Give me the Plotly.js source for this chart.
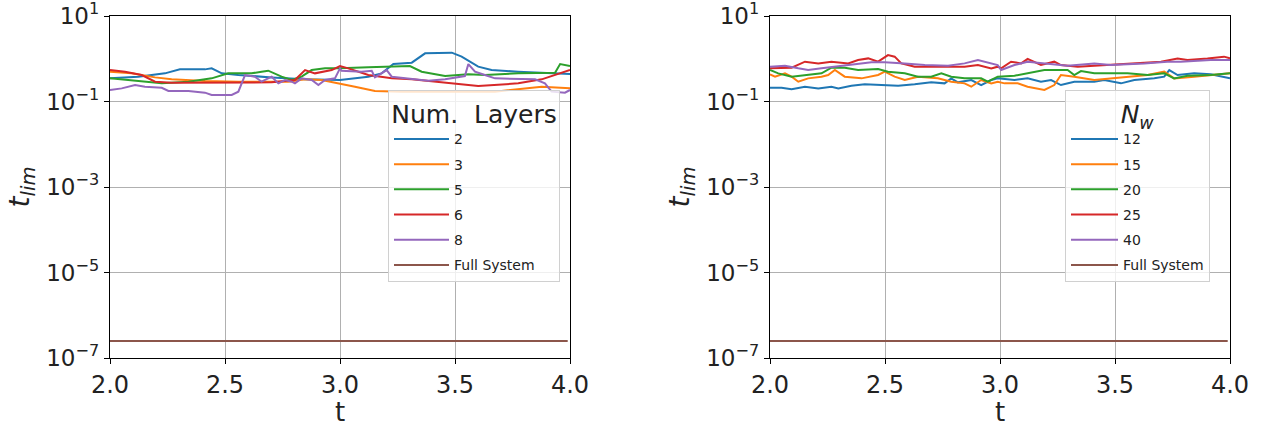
<!DOCTYPE html>
<html><head><meta charset="utf-8">
<script src="https://cdn.plot.ly/plotly-3.0.1.min.js"></script>
<style>html,body{margin:0;padding:0;background:#fff}#chart{width:1265px;height:427px}</style>
</head><body><div id="chart"></div>
<script>
// ---------- Left panel: Num. Layers ----------
const L2_t = [2.0,2.123,2.239,2.304,2.413,2.442,2.486,2.558,2.703,2.848,3.0,3.123,3.181,3.232,3.312,3.37,3.486,3.529,3.601,3.659,3.775,3.92,4.0];
const L2_v = [0.348,0.381,0.456,0.565,0.565,0.597,0.456,0.417,0.367,0.33,0.318,0.381,0.456,0.753,0.81,1.34,1.39,1.12,0.653,0.545,0.499,0.472,0.44];

const L3_t = [2.0,2.094,2.196,2.268,2.413,2.558,2.775,2.848,2.92,3.0,3.065,3.152,3.268,3.674,3.761,3.877,4.0];
const L3_v = [0.499,0.456,0.367,0.33,0.302,0.291,0.291,0.33,0.318,0.266,0.222,0.176,0.17,0.17,0.193,0.222,0.203];

const L5_t = [2.0,2.123,2.225,2.341,2.442,2.514,2.616,2.659,2.688,2.746,2.79,2.833,2.877,2.935,3.0,3.123,3.304,3.355,3.457,3.558,3.63,3.775,3.935,3.957,4.0];
const L5_v = [0.348,0.307,0.266,0.291,0.348,0.456,0.456,0.499,0.526,0.381,0.318,0.381,0.545,0.597,0.597,0.63,0.676,0.499,0.395,0.432,0.417,0.456,0.472,0.753,0.676];

const L6_t = [2.0,2.065,2.138,2.196,2.268,2.558,2.703,2.804,2.848,2.891,2.964,3.0,3.036,3.123,3.225,3.312,3.486,3.601,3.775,3.877,4.0];
const L6_v = [0.545,0.499,0.417,0.291,0.276,0.276,0.281,0.318,0.545,0.456,0.545,0.676,0.597,0.417,0.348,0.33,0.266,0.231,0.266,0.33,0.545];

const L8_t = [2.0,2.051,2.109,2.152,2.225,2.254,2.341,2.413,2.442,2.529,2.558,2.587,2.630,2.659,2.703,2.732,2.761,2.79,2.804,2.833,2.877,2.906,2.935,2.978,3.0,3.007,3.094,3.138,3.152,3.203,3.225,3.297,3.384,3.457,3.543,3.558,3.587,3.63,3.674,3.848,3.891,3.92,3.978,4.0];
const L8_v = [0.186,0.203,0.243,0.222,0.21,0.176,0.176,0.161,0.142,0.142,0.17,0.417,0.381,0.291,0.381,0.266,0.318,0.291,0.266,0.348,0.318,0.243,0.318,0.348,0.597,0.526,0.499,0.526,0.367,0.545,0.381,0.348,0.307,0.33,0.395,0.753,0.499,0.417,0.348,0.33,0.266,0.17,0.161,0.186];

// ---------- Right panel: N_w ----------
const R12_t = [2.0,2.05,2.094,2.152,2.21,2.267,2.297,2.354,2.412,2.484,2.557,2.629,2.701,2.759,2.788,2.817,2.875,2.918,2.962,2.99,3.063,3.12,3.178,3.222,3.265,3.323,3.41,3.453,3.526,3.584,3.671,3.714,3.736,3.772,3.844,3.916,3.974,4.0];
const R12_v = [0.21,0.21,0.193,0.222,0.203,0.222,0.203,0.235,0.252,0.243,0.235,0.252,0.281,0.266,0.348,0.281,0.318,0.243,0.318,0.348,0.318,0.348,0.291,0.318,0.243,0.291,0.291,0.318,0.266,0.318,0.348,0.381,0.545,0.417,0.456,0.432,0.381,0.348];

const R15_t = [2.0,2.022,2.065,2.094,2.123,2.166,2.224,2.253,2.282,2.325,2.398,2.47,2.499,2.542,2.586,2.643,2.73,2.788,2.846,2.875,2.918,2.962,2.99,3.02,3.077,3.12,3.193,3.236,3.265,3.323,3.41,3.482,3.555,3.642,3.714,3.757,3.844,3.916,4.0];
const R15_v = [0.432,0.381,0.456,0.381,0.291,0.348,0.381,0.417,0.545,0.381,0.348,0.417,0.499,0.381,0.318,0.381,0.348,0.291,0.266,0.222,0.318,0.266,0.291,0.266,0.266,0.222,0.186,0.243,0.417,0.381,0.318,0.348,0.381,0.417,0.499,0.348,0.381,0.417,0.456];

const R20_t = [2.0,2.036,2.094,2.166,2.224,2.267,2.325,2.383,2.47,2.513,2.586,2.643,2.701,2.745,2.788,2.846,2.918,2.947,2.99,3.063,3.12,3.193,3.294,3.323,3.352,3.41,3.555,3.642,3.714,3.757,3.815,3.916,4.0];
const R20_v = [0.545,0.456,0.381,0.417,0.456,0.618,0.618,0.545,0.575,0.499,0.456,0.381,0.381,0.456,0.381,0.348,0.348,0.291,0.381,0.402,0.456,0.545,0.545,0.417,0.517,0.456,0.456,0.417,0.456,0.348,0.402,0.417,0.456];

const R25_t = [2.0,2.094,2.152,2.21,2.267,2.34,2.383,2.427,2.47,2.513,2.542,2.571,2.6,2.629,2.774,2.846,2.904,2.962,2.99,3.005,3.048,3.092,3.12,3.178,3.236,3.265,3.338,3.41,3.482,3.555,3.7,3.772,3.815,3.902,3.974,4.0];
const R25_v = [0.597,0.618,0.855,0.78,0.855,0.78,0.935,1.02,0.855,1.22,1.12,0.78,0.714,0.653,0.653,0.653,0.714,0.597,0.653,0.597,0.855,0.78,0.99,0.714,0.855,0.714,0.653,0.69,0.74,0.78,0.855,1.02,0.935,1.02,1.12,1.02];

const R40_t = [2.0,2.065,2.123,2.166,2.224,2.297,2.369,2.441,2.499,2.586,2.673,2.774,2.846,2.904,2.962,2.99,3.005,3.063,3.12,3.207,3.294,3.41,3.482,3.627,3.728,3.786,3.916,4.0];
const R40_v = [0.653,0.69,0.597,0.545,0.597,0.653,0.74,0.825,0.825,0.78,0.714,0.69,0.78,0.935,0.78,0.714,0.545,0.714,0.855,0.78,0.69,0.78,0.714,0.78,0.855,0.855,0.935,0.935];

// Full system (constant)
const full_t = [2.0, 3.99];
const full_v = [2.5e-7, 2.5e-7];

const leftNames  = ['2','3','5','6','8','Full System'];
const rightNames = ['12','15','20','25','40','Full System'];
const colors = ['#1f77b4','#ff7f0e','#2ca02c','#d62728','#9467bd','#8c564b'];

const yTickVals = [10, 0.1, 1e-3, 1e-5, 1e-7];
const yTickText = ['10<sup>1</sup>','10<sup>−1</sup>','10<sup>−3</sup>','10<sup>−5</sup>','10<sup>−7</sup>'];
const xTickVals = [2.0, 2.5, 3.0, 3.5, 4.0];
const xTickText = ['2.0','2.5','3.0','3.5','4.0'];

const leftData  = [[L2_t,L2_v],[L3_t,L3_v],[L5_t,L5_v],[L6_t,L6_v],[L8_t,L8_v],[full_t,full_v]];
const rightData = [[R12_t,R12_v],[R15_t,R15_v],[R20_t,R20_v],[R25_t,R25_v],[R40_t,R40_v],[full_t,full_v]];

const traces = [];
leftData.forEach((d,i)=>traces.push({x:d[0],y:d[1],type:'scatter',mode:'lines',name:leftNames[i],
  line:{color:colors[i],width:2},xaxis:'x',yaxis:'y',legend:'legend',legendgroup:'L'+i}));
rightData.forEach((d,i)=>traces.push({x:d[0],y:d[1],type:'scatter',mode:'lines',name:rightNames[i],
  line:{color:colors[i],width:2},xaxis:'x2',yaxis:'y2',legend:'legend2',legendgroup:'R'+i}));

const FONT = 'DejaVu Sans, sans-serif';
function xa(dom, anchor){ return {domain:dom, anchor:anchor, range:[2,4], tickvals:xTickVals, ticktext:xTickText,
  showgrid:true, gridcolor:'#b0b0b0', gridwidth:1, zeroline:false, showline:true, linecolor:'#000', linewidth:1.2, mirror:true,
  ticks:'outside', ticklen:5, tickcolor:'#000', tickfont:{family:FONT,size:24,color:'#222'}, ticklabeloverflow:'allow',
  title:{text:'t', font:{family:FONT,size:26,color:'#222'}, standoff:4}}; }
function ya(anchor){ return {domain:[0,1], anchor:anchor, type:'log', range:[-7,1.0005], tickvals:yTickVals, ticktext:yTickText,
  showgrid:true, gridcolor:'#b0b0b0', gridwidth:1, zeroline:false, showline:true, linecolor:'#000', linewidth:1.2, mirror:true,
  ticks:'outside', ticklen:5, tickcolor:'#000', tickfont:{family:FONT,size:23,color:'#222'}, ticklabeloverflow:'allow',
  title:{text:'<i>t</i><sub><i>lim</i></sub>', font:{family:FONT,size:28,color:'#222'}, standoff:8}}; }
function lg(x, titleText, iw){ return {x:x, y:0.784, xanchor:'left', yanchor:'top', bgcolor:'rgba(255,255,255,0.8)',
  bordercolor:'#d0d0d0', borderwidth:1, font:{family:FONT,size:14,color:'#222'}, tracegroupgap:4, itemwidth:iw,
  title:{text:titleText, side:'top center', font:{family:FONT,size:25,color:'#222'}}}; }

const layout = {
  width:1265, height:427, margin:{l:0,r:0,t:16,b:69}, paper_bgcolor:'#fff', plot_bgcolor:'#fff', showlegend:true,
  xaxis: xa([110/1265, 570/1265], 'y'), yaxis: ya('x'),
  xaxis2: xa([770/1265, 1230/1265], 'y2'), yaxis2: ya('x2'),
  legend: lg(388/1265, 'Num.  Layers', 55),
  legend2: lg(1065/1265, '<i>N</i><sub><i>w</i></sub>', 47)
};
Plotly.newPlot('chart', traces, layout, {staticPlot:true, displayModeBar:false});
</script></body></html>
